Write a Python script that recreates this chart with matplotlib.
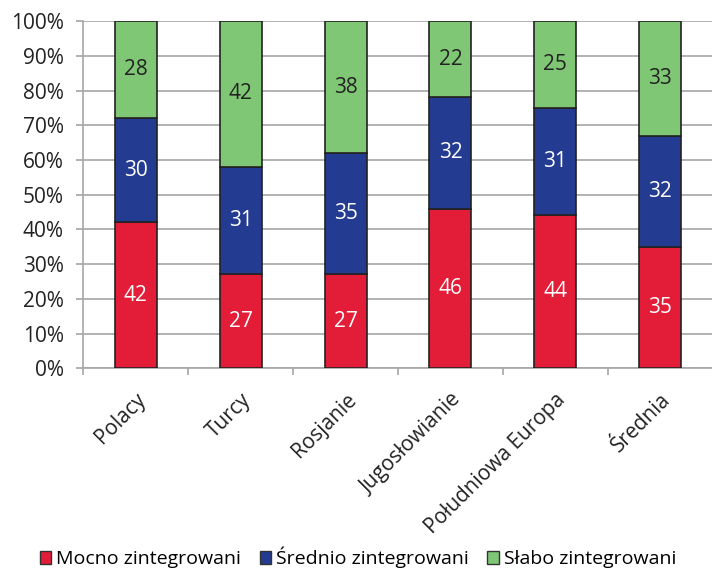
import numpy as np
import matplotlib.pyplot as plt
from matplotlib.patches import Patch
from matplotlib.ticker import FixedLocator, FuncFormatter

plt.rcParams['font.family'] = ['Open Sans', 'DejaVu Sans']

categories = ['Polacy', 'Turcy', 'Rosjanie', 'Jugosłowianie', 'Południowa Europa', 'Średnia']
mocno = [42, 27, 27, 46, 44, 35]
srednio = [30, 31, 35, 32, 31, 32]
slabo = [28, 42, 38, 22, 25, 33]
series_names = ['Mocno zintegrowani', 'Średnio zintegrowani', 'Słabo zintegrowani']

colors = ['#E31C37', '#243B92', '#80C775']
text_colors = ['white', 'white', '#222222']
grid_col = '#A6A6A6'
fs = 15

fig = plt.figure(figsize=(7.12, 5.70), dpi=100)
ax = fig.add_axes([0.117, 0.354, 0.884, 0.609])

x = np.arange(len(categories))
bottom = np.zeros(len(categories))
for vals, col, tcol in zip([mocno, srednio, slabo], colors, text_colors):
    vals = np.array(vals, dtype=float)
    ax.bar(x, vals, 0.4, bottom=bottom, color=col, edgecolor='#222222', linewidth=1.2, zorder=3)
    for xi, b, v in zip(x, bottom, vals):
        ax.text(xi, b + v / 2, f'{int(v)}', ha='center', va='center', color=tcol,
                fontsize=fs, zorder=4)
    bottom += vals

ax.set_xlim(-0.5, len(categories) - 0.5)
ax.set_ylim(0, 100)
ax.set_yticks(np.arange(0, 101, 10))
ax.yaxis.set_major_formatter(FuncFormatter(lambda v, p: f'{int(v)}%'))
ax.grid(axis='y', color=grid_col, linewidth=1.2, zorder=0)

ax.set_xticks(x)
ax.set_xticklabels(categories, rotation=45, ha='right', rotation_mode='anchor')
ax.xaxis.set_minor_locator(FixedLocator(np.arange(-0.5, len(categories), 1.0)))
ax.tick_params(axis='x', which='major', length=0, pad=15, labelsize=fs, colors='#222222')
ax.tick_params(axis='x', which='minor', length=5, width=1.2, color=grid_col)
ax.tick_params(axis='y', length=5, width=1.2, color=grid_col, labelsize=fs,
               labelcolor='#222222', pad=9)

for s in ['top', 'right']:
    ax.spines[s].set_visible(False)
for s in ['left', 'bottom']:
    ax.spines[s].set_color(grid_col)
    ax.spines[s].set_linewidth(1.2)

handles = [Patch(facecolor=c, edgecolor='#333333', linewidth=1.0) for c in colors]
fig.legend(handles, series_names, loc='center left', bbox_to_anchor=(0.045, 0.022),
           ncol=3, frameon=False, fontsize=14, handlelength=0.6, handleheight=0.6,
           handletextpad=0.25, columnspacing=0.95, borderaxespad=0)

fig.savefig('out.png', dpi=100)
